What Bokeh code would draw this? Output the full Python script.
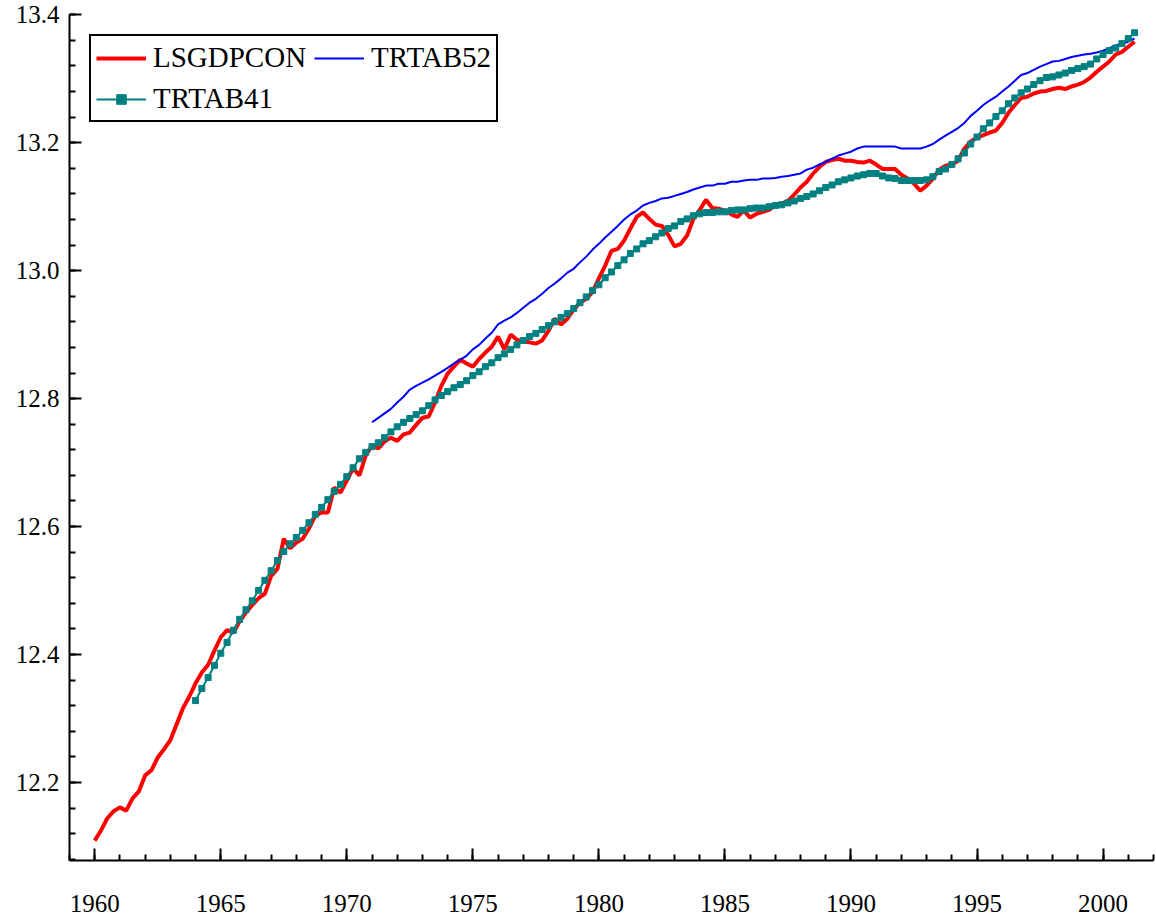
import numpy as np
from bokeh.plotting import figure
from bokeh.models import Range1d, SingleIntervalTicker, NumeralTickFormatter, Legend, LegendItem
from bokeh.embed import file_html
from bokeh.resources import INLINE

# Quarterly series
lsgdpcon_start = 1960.0
lsgdpcon = [
    12.109, 12.125, 12.144, 12.155,
    12.161, 12.156, 12.175, 12.186,
    12.211, 12.219, 12.239, 12.252,
    12.266, 12.291, 12.316, 12.334,
    12.355, 12.372, 12.384, 12.406,
    12.427, 12.438, 12.434, 12.452,
    12.466, 12.477, 12.488, 12.495,
    12.523, 12.534, 12.581, 12.566,
    12.575, 12.581, 12.597, 12.617,
    12.622, 12.622, 12.661, 12.653,
    12.672, 12.691, 12.680, 12.711,
    12.727, 12.722, 12.733, 12.739,
    12.734, 12.744, 12.747, 12.759,
    12.770, 12.772, 12.794, 12.820,
    12.839, 12.850, 12.861, 12.855,
    12.850, 12.862, 12.872, 12.881,
    12.897, 12.877, 12.900, 12.892,
    12.889, 12.888, 12.886, 12.891,
    12.906, 12.925, 12.916, 12.925,
    12.939, 12.950, 12.956, 12.967,
    12.988, 13.008, 13.031, 13.034,
    13.047, 13.066, 13.084, 13.091,
    13.081, 13.072, 13.070, 13.056,
    13.038, 13.042, 13.055, 13.081,
    13.095, 13.111, 13.098, 13.097,
    13.094, 13.088, 13.084, 13.094,
    13.083, 13.089, 13.092, 13.095,
    13.102, 13.105, 13.109, 13.119,
    13.130, 13.139, 13.152, 13.162,
    13.170, 13.173, 13.175, 13.172,
    13.172, 13.170, 13.169, 13.172,
    13.166, 13.159, 13.159, 13.159,
    13.150, 13.144, 13.136, 13.125,
    13.133, 13.144, 13.158, 13.164,
    13.166, 13.172, 13.191, 13.202,
    13.208, 13.212, 13.216, 13.219,
    13.231, 13.247, 13.259, 13.270,
    13.272, 13.277, 13.280, 13.281,
    13.284, 13.286, 13.284, 13.288,
    13.291, 13.295, 13.302, 13.311,
    13.319, 13.327, 13.338, 13.342,
    13.350, 13.358,
]

trtab41_start = 1964.0
trtab41 = [
    12.328, 12.347, 12.364, 12.383,
    12.402, 12.419, 12.438, 12.455,
    12.470, 12.484, 12.500, 12.516,
    12.531, 12.547, 12.561, 12.573,
    12.583, 12.594, 12.606, 12.619,
    12.630, 12.642, 12.655, 12.666,
    12.678, 12.692, 12.706, 12.716,
    12.725, 12.731, 12.739, 12.748,
    12.756, 12.763, 12.769, 12.775,
    12.781, 12.789, 12.798, 12.805,
    12.811, 12.817, 12.822, 12.828,
    12.836, 12.842, 12.850, 12.856,
    12.864, 12.870, 12.877, 12.884,
    12.891, 12.897, 12.902, 12.908,
    12.914, 12.920, 12.927, 12.933,
    12.941, 12.950, 12.959, 12.969,
    12.978, 12.989, 12.998, 13.008,
    13.017, 13.027, 13.034, 13.042,
    13.047, 13.053, 13.059, 13.066,
    13.070, 13.077, 13.081, 13.086,
    13.089, 13.091, 13.091, 13.092,
    13.092, 13.094, 13.095, 13.095,
    13.097, 13.098, 13.098, 13.100,
    13.102, 13.103, 13.106, 13.109,
    13.113, 13.116, 13.120, 13.125,
    13.130, 13.134, 13.139, 13.142,
    13.145, 13.148, 13.150, 13.152,
    13.152, 13.148, 13.145, 13.144,
    13.141, 13.141, 13.141, 13.141,
    13.142, 13.147, 13.155, 13.159,
    13.166, 13.175, 13.184, 13.198,
    13.209, 13.222, 13.231, 13.241,
    13.250, 13.261, 13.270, 13.278,
    13.284, 13.291, 13.297, 13.302,
    13.303, 13.306, 13.309, 13.313,
    13.316, 13.319, 13.323, 13.331,
    13.338, 13.344, 13.348, 13.355,
    13.363, 13.372,
]

trtab52_start = 1971.0
trtab52 = [
    12.763, 12.770, 12.777, 12.784,
    12.794, 12.803, 12.814, 12.820,
    12.825, 12.830, 12.836, 12.842,
    12.848, 12.855, 12.861, 12.867,
    12.877, 12.884, 12.894, 12.903,
    12.916, 12.922, 12.927, 12.934,
    12.942, 12.950, 12.956, 12.964,
    12.973, 12.980, 12.988, 12.997,
    13.003, 13.013, 13.022, 13.033,
    13.042, 13.052, 13.061, 13.070,
    13.080, 13.088, 13.094, 13.102,
    13.106, 13.109, 13.113, 13.114,
    13.117, 13.120, 13.123, 13.127,
    13.130, 13.133, 13.133, 13.136,
    13.136, 13.139, 13.139, 13.141,
    13.142, 13.142, 13.144, 13.144,
    13.145, 13.147, 13.148, 13.150,
    13.152, 13.158, 13.161, 13.166,
    13.170, 13.175, 13.180, 13.183,
    13.186, 13.191, 13.194, 13.194,
    13.194, 13.194, 13.194, 13.194,
    13.191, 13.191, 13.191, 13.191,
    13.194, 13.198, 13.205, 13.211,
    13.217, 13.223, 13.231, 13.242,
    13.250, 13.259, 13.266, 13.272,
    13.280, 13.288, 13.297, 13.306,
    13.309, 13.314, 13.319, 13.323,
    13.327, 13.328, 13.331, 13.334,
    13.336, 13.338, 13.339, 13.341,
    13.344, 13.348, 13.352, 13.355,
    13.358, 13.363,
]


def quarters(start, n):
    return [start + 0.25 * i for i in range(n)]


x_red = quarters(lsgdpcon_start, len(lsgdpcon))
x_teal = quarters(trtab41_start, len(trtab41))
x_blue = quarters(trtab52_start, len(trtab52))

FONT = "Liberation Serif"

p = figure(width=1156, height=918, output_backend="svg", toolbar_location=None,
           x_range=Range1d(1959, 2002.001), y_range=Range1d(12.078, 13.4005),
           min_border_left=69, min_border_right=3, min_border_top=14, min_border_bottom=58)
p.outline_line_color = None
p.xgrid.visible = False
p.ygrid.visible = False
p.background_fill_color = "white"
p.border_fill_color = "white"

r_red = p.line(x_red, lsgdpcon, line_color="#ff0000", line_width=4)
r_blue = p.line(x_blue, trtab52, line_color="#0000ff", line_width=2)
r_teal_l = p.line(x_teal, trtab41, line_color="#008080", line_width=2)
r_teal_m = p.scatter(x_teal, trtab41, marker="square", size=6, fill_color="#008080",
                     line_color="#008080")

for ax in (p.xaxis[0], p.yaxis[0]):
    ax.axis_line_width = 2
    ax.axis_line_color = "black"
    ax.major_tick_line_width = 2
    ax.minor_tick_line_width = 2
    ax.major_tick_in = 12
    ax.major_tick_out = 0
    ax.minor_tick_in = 6
    ax.minor_tick_out = 0
    ax.major_label_text_font = FONT
    ax.major_label_text_font_size = "25px"
    ax.major_label_text_color = "black"

p.xaxis[0].ticker = SingleIntervalTicker(interval=5, num_minor_ticks=5)
p.xaxis[0].formatter = NumeralTickFormatter(format="0")
p.xaxis[0].major_label_standoff = 34
p.yaxis[0].ticker = SingleIntervalTicker(interval=0.2, num_minor_ticks=5)
p.yaxis[0].formatter = NumeralTickFormatter(format="0.0")
p.yaxis[0].major_label_standoff = 10

legend = Legend(items=[
    LegendItem(label="LSGDPCON", renderers=[r_red]),
    LegendItem(label="TRTAB41", renderers=[r_teal_l, r_teal_m]),
    LegendItem(label="TRTAB52", renderers=[r_blue]),
], location="top_left", nrows=2, margin=20, padding=5, spacing=8,
   glyph_width=50, glyph_height=24, label_height=24, label_standoff=7,
   label_text_font=FONT, label_text_font_size="29px", label_text_color="black",
   border_line_color="black", border_line_width=2, border_line_alpha=1.0,
   background_fill_alpha=1.0)
p.add_layout(legend)

open("out.html", "w").write(file_html(p, INLINE))
